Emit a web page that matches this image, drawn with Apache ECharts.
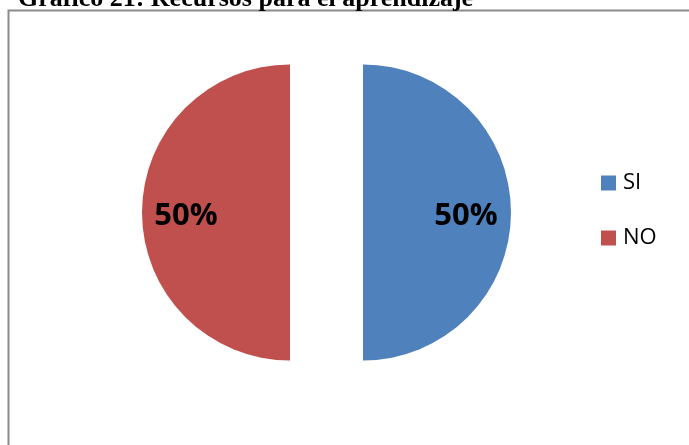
<!DOCTYPE html>
<html>
<head>
<meta charset="utf-8">
<script src="https://cdn.jsdelivr.net/npm/echarts@6/dist/echarts.min.js"></script>
<style>html,body{margin:0;padding:0;background:#fff;}#c{width:689px;height:445px;}</style>
</head>
<body>
<div id="c"></div>
<script>
var titleText = 'Gráfico 21: Recursos para el aprendizaje';
var categories = ['SI', 'NO'];
var values = [50, 50];
var colors = ['#4F81BD', '#C0504D'];
var labelShift = [26, -27];

var chart = echarts.init(document.getElementById('c'), null, {renderer: 'canvas'});
var data = categories.map(function (c, i) {
  return {
    name: c, value: values[i], selected: true,
    itemStyle: {color: colors[i]}
  };
});
chart.setOption({
  animation: false,
  graphic: [
    {type: 'rect', shape: {x: 8.5, y: 10.5, width: 720, height: 520}, style: {fill: 'none', stroke: '#8a8a8a', lineWidth: 2}, silent: true},
    {type: 'text', x: 18, y: 12, style: {text: titleText, font: 'bold 26px "Liberation Serif", "Times New Roman", serif', fill: '#000', textVerticalAlign: 'bottom'}, silent: true}
  ],
  legend: {
    orient: 'vertical', left: 596, top: 167,
    itemWidth: 15, itemHeight: 15, itemGap: 33, icon: 'rect',
    textStyle: {fontSize: 22, color: '#000', fontFamily: '"Open Sans", sans-serif', padding: [0, 0, 0, 2]},
    selectedMode: false,
    data: categories
  },
  series: [{
    type: 'pie',
    center: [326.5, 212.5],
    radius: 148,
    startAngle: 90,
    clockwise: true,
    selectedMode: 'multiple',
    selectedOffset: 36.5,
    silent: true,
    label: {
      show: true, position: 'inner',
      formatter: function (p) { return p.value + '%'; },
      fontSize: 31, fontWeight: 'bold', color: '#000',
      fontFamily: '"Open Sans", sans-serif'
    },
    labelLayout: function (p) { return {dx: labelShift[p.dataIndex], dy: 4}; },
    labelLine: {show: false},
    emphasis: {disabled: true},
    data: data
  }]
});
</script>
</body>
</html>
